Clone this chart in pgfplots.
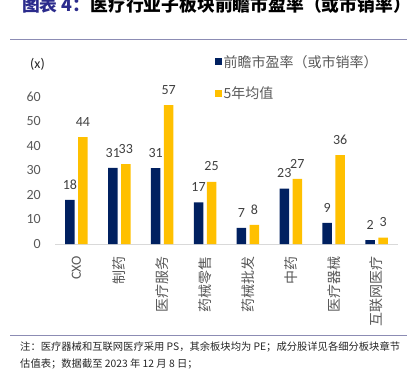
\documentclass[border=0pt]{standalone}
\usepackage{pgfplots}
\pgfplotsset{compat=1.18}
\usepackage{fontspec}
\setmainfont{Carlito}
\newfontfamily\cjk{Noto Sans CJK SC}
\definecolor{navy}{HTML}{002060}
\definecolor{gold}{HTML}{FFC000}
\definecolor{tickc}{HTML}{595959}
\definecolor{lblc}{HTML}{404040}
\definecolor{rulec}{HTML}{8C8CB4}
\definecolor{ttlblue}{HTML}{2B2B8C}
\definecolor{axisc}{HTML}{D9D9D9}
\begin{document}
\begin{tikzpicture}[x=1pt,y=1pt]
\useasboundingbox (0,0) rectangle (415,376);
\draw[rulec, line width=1pt] (10,336.5) -- (407,336.5);
\draw[rulec, line width=1pt] (10,41) -- (407,41);
\node[anchor=base west, inner sep=0] at (22,365) {\cjk\bfseries\fontsize{17.8}{17.8}\selectfont\textcolor{ttlblue}{图表 4：}医疗行业子板块前瞻市盈率（或市销率）};
\node[anchor=base west, inner sep=0, text=black!85] at (20,26) {\cjk\fontsize{10.3}{12}\selectfont 注：医疗器械和互联网医疗采用 PS，其余板块均为 PE；成分股详见各细分板块章节};
\node[anchor=base west, inner sep=0, text=black!85] at (20,9) {\cjk\fontsize{10.3}{12}\selectfont 估值表；数据截至 2023 年 12 月 8 日；};
\node[inner sep=0, text=black!85] at (37.5,312) {\fontsize{14}{14}\selectfont (x)};
\begin{axis}[
  at={(76.44pt,132pt)}, anchor=origin,
  scale only axis, width=343pt, height=147pt,
  xmin=-0.5, xmax=7.5, ymin=0, ymax=60,
  clip=false,
  /pgf/number format/assume math mode=true,
  axis x line*=bottom, axis y line*=left,
  axis line style={-},
  x axis line style={draw=axisc, line width=0.8pt},
  y axis line style={draw=none},
  major tick length=0pt,
  ytick={0,10,...,60},
  yticklabel style={font=\fontsize{14}{14}\selectfont, text=tickc, inner sep=0pt, xshift=-14pt},
  xtick={0,...,7},
  xticklabels={{\rmfamily CXO},制药,医疗服务,药械零售,药械批发,中药,医疗器械,互联网医疗},
  xticklabel style={yshift=-12pt, rotate=90, anchor=east, font=\cjk\fontsize{14}{14}\selectfont, text=tickc, inner sep=0pt},
  nodes near coords,
  nodes near coords style={/pgf/number format/fixed, /pgf/number format/precision=0, /pgf/number format/assume math mode=true, font=\fontsize{14}{14}\selectfont, text=lblc, anchor=south, inner sep=0pt, yshift=10.5pt},
  legend style={at={(0.466,1.286)}, anchor=north west, draw=none, fill=none, inner sep=0pt, font=\cjk\fontsize{14}{14}\selectfont, text=tickc, row sep=18pt, nodes={inner xsep=1.5pt, inner ysep=0pt}},
  legend cell align=left,
  legend image code/.code={\fill[#1] (0pt,-3.5pt) rectangle (7pt,3.5pt);},
]
\addplot[ybar, bar width=9.5pt, bar shift=-6.5pt, fill=navy, draw=none, every node near coord/.append style={xshift=-6.5pt}] coordinates {(0,18.0) (1,31.1) (2,31.0) (3,17.0) (4,6.6) (5,22.6) (6,8.6) (7,1.6)};
\addlegendentry{前瞻市盈率（或市销率）}
\addplot[ybar, bar width=9.5pt, bar shift=6.5pt, fill=gold, draw=none, every node near coord/.append style={xshift=6.5pt}] coordinates {(0,43.6) (1,32.6) (2,56.7) (3,25.4) (4,7.8) (5,26.6) (6,36.3) (7,2.6)};
\addlegendentry{5年均值}
\end{axis}
\end{tikzpicture}
\end{document}
